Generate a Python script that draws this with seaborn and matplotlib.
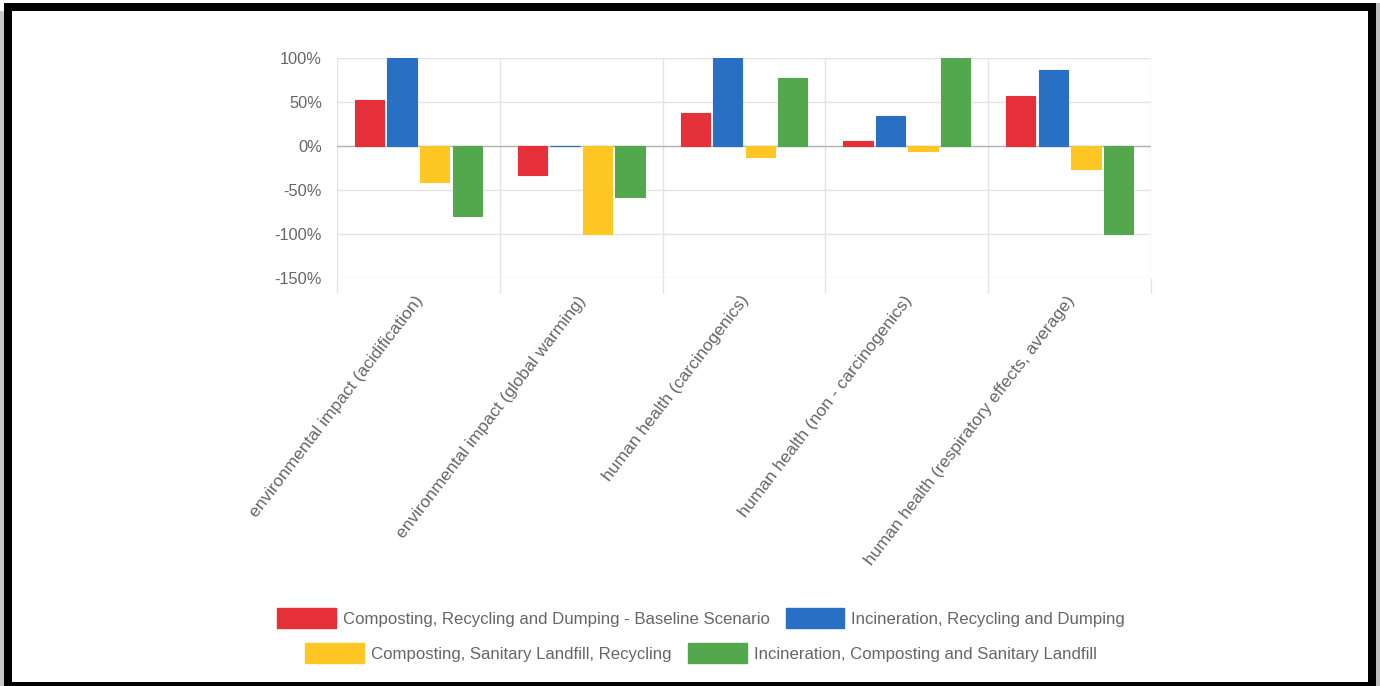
import numpy as np
import pandas as pd
import seaborn as sns
import matplotlib
matplotlib.use("Agg")
import matplotlib.pyplot as plt
from matplotlib.patches import Patch, Rectangle
from matplotlib.ticker import FixedLocator, FuncFormatter
from matplotlib.transforms import ScaledTranslation

# ---- data -----------------------------------------------------------------
categories = [
    "environmental impact (acidification)",
    "environmental impact (global warming)",
    "human health (carcinogenics)",
    "human health (non - carcinogenics)",
    "human health (respiratory effects, average)",
]
scenarios = [
    "Composting, Recycling and Dumping - Baseline Scenario",
    "Incineration, Recycling and Dumping",
    "Composting, Sanitary Landfill, Recycling",
    "Incineration, Composting and Sanitary Landfill",
]
baseline_values = [52, -33, 37, 6, 56.5]
incineration_recycling_values = [100, 0, 100, 34.5, 86]
sanitary_landfill_values = [-41, -100, -13, -6, -26.5]
incineration_composting_values = [-79, -58, 77, 100, -100]
y_ticks = [-150, -100, -50, 0, 50, 100]

colors = ["#E5303A", "#2970C4", "#FFC724", "#53A74C"]
text_color = "#666666"
grid_color = "#E4E4E4"

series = [baseline_values, incineration_recycling_values,
          sanitary_landfill_values, incineration_composting_values]
df = pd.DataFrame(
    [(c, s, v) for s, vals in zip(scenarios, series) for c, v in zip(categories, vals)],
    columns=["category", "scenario", "value"],
)

# ---- figure ---------------------------------------------------------------
sns.set_theme(style="white")
plt.rcParams["font.family"] = ["Liberation Sans", "DejaVu Sans"]

W, H = 1380, 686
fig = plt.figure(figsize=(W / 100, H / 100), dpi=100)
fig.patch.set_facecolor("white")

left, right, top, bottom = 337, 1151, 58, 278
ax = fig.add_axes([left / W, 1 - bottom / H, (right - left) / W, (bottom - top) / H])

sns.barplot(
    data=df, x="category", y="value", hue="scenario",
    order=categories, hue_order=scenarios, palette=colors,
    width=0.8, gap=0.1, saturation=1, legend=False, ax=ax, zorder=3,
)
for bar in ax.patches:
    bar.set_edgecolor(bar.get_facecolor())
    bar.set_linewidth(0.8)

ax.set_xlim(-0.5, len(categories) - 0.5)
ax.set_ylim(-150, 100)
ax.set_xlabel("")
ax.set_ylabel("")

for sp in ax.spines.values():
    sp.set_visible(False)

# horizontal grid
ax.yaxis.set_major_locator(FixedLocator(y_ticks))
ax.yaxis.set_major_formatter(FuncFormatter(lambda v, _: f"{v:.0f}%"))
ax.grid(axis="y", color=grid_color, linewidth=1, zorder=0)
ax.axhline(0, color="#B5B5B5", linewidth=1, zorder=2)
ax.tick_params(axis="y", length=0, pad=10.8, labelsize=11.8, labelcolor=text_color)

# vertical separators between categories, extending below the plot
ax.xaxis.set_minor_locator(FixedLocator(np.arange(len(categories) + 1) - 0.5))
ax.grid(axis="x", which="minor", color=grid_color, linewidth=1, zorder=0)
ax.grid(axis="x", which="major", visible=False)
ax.tick_params(axis="x", which="minor", length=10.8, width=1, color=grid_color,
               direction="out", bottom=True)
ax.tick_params(axis="x", which="major", length=0, pad=14, labelsize=12.6,
               labelcolor=text_color)
ax.set_xticks(range(len(categories)))
ax.set_xticklabels(categories, rotation=52.5, ha="right", va="center",
                   rotation_mode="anchor")
shift = ScaledTranslation(2 / 100, 0, fig.dpi_scale_trans)
for lab in ax.get_xticklabels():
    lab.set_transform(lab.get_transform() + shift)

# ---- legend (two centred rows) -------------------------------------------
handles = [Patch(facecolor=c, edgecolor=c) for c in colors]
legend_kw = dict(loc="center", ncol=2, frameon=False, fontsize=12.1,
                 labelcolor=text_color, handlelength=3.5, handleheight=1.45,
                 handletextpad=0.42, columnspacing=0.95, borderpad=0,
                 borderaxespad=0)
fig.legend(handles[:2], scenarios[:2], bbox_to_anchor=(701 / W, 1 - 618 / H),
           **legend_kw)
fig.legend(handles[2:], scenarios[2:], bbox_to_anchor=(701 / W, 1 - 653 / H),
           **legend_kw)

# ---- outer frame ----------------------------------------------------------
fig.add_artist(Rectangle((0, 0), 4 / W, 1 - 11 / H, transform=fig.transFigure,
                         facecolor="#C8C8C8", edgecolor="none"))
fig.add_artist(Rectangle((1376 / W, 0), 4 / W, 1 - 3 / H, transform=fig.transFigure,
                         facecolor="#BDBDBD", edgecolor="none"))
fig.add_artist(Rectangle((8 / W, 0), (1372 - 8) / W, 1 - 7 / H,
                         transform=fig.transFigure, fill=False,
                         edgecolor="black", linewidth=8 * 0.72))

fig.savefig("out.png", dpi=100, facecolor="white")
